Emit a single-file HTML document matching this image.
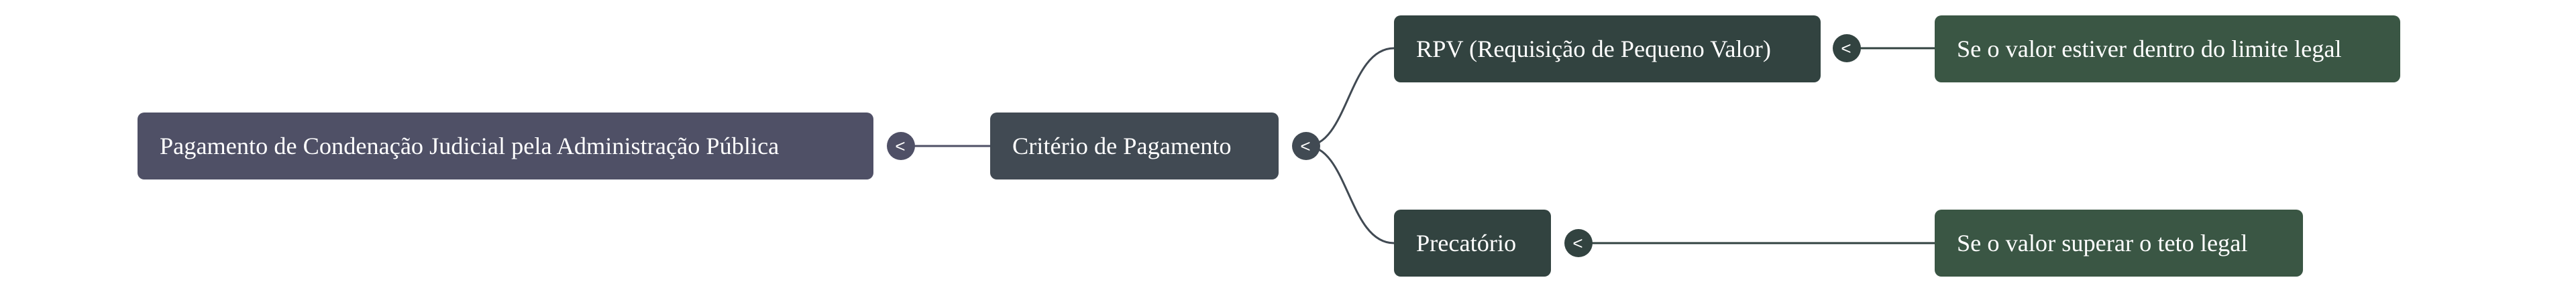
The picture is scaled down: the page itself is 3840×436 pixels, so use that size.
<!DOCTYPE html>
<html><head><meta charset="utf-8"><style>
html,body{margin:0;padding:0;background:#fff;width:3840px;height:436px;overflow:hidden;position:relative}
.n{position:absolute;box-sizing:border-box;border-radius:10px;color:#fff;font-family:"Liberation Serif",serif;font-size:36.3px;display:flex;align-items:center;padding-left:33px;white-space:nowrap}
</style></head><body>
<svg width="3840" height="436" style="position:absolute;left:0;top:0">
<g stroke="#414a53" stroke-width="3" fill="none">
<line x1="1343" y1="218" x2="1476" y2="218" stroke="#4f5066"/>
<path d="M1947 218 C2010 218 2010 72 2078 72"/>
<path d="M1947 218 C2010 218 2010 363 2078 363"/>
<line x1="2753" y1="72" x2="2884" y2="72" stroke="#324340"/>
<line x1="2353" y1="363" x2="2884" y2="363" stroke="#324340"/>
</g>
<g font-family="Liberation Sans,sans-serif" font-size="26" fill="#fff" text-anchor="middle">
<circle cx="1343" cy="218" r="21" fill="#4f5066"/><text x="1342" y="227">&lt;</text>
<circle cx="1947" cy="218" r="21" fill="#414a53"/><text x="1946" y="227">&lt;</text>
<circle cx="2753" cy="72" r="21" fill="#324340"/><text x="2752" y="81">&lt;</text>
<circle cx="2353" cy="363" r="21" fill="#324340"/><text x="2352" y="372">&lt;</text>
</g>
</svg>
<div class="n" style="left:205px;top:168px;width:1097px;height:100px;background:#4f5066">Pagamento de Condenação Judicial pela Administração Pública</div>
<div class="n" style="left:1476px;top:168px;width:430px;height:100px;background:#414a53">Critério de Pagamento</div>
<div class="n" style="left:2078px;top:23px;width:636px;height:100px;background:#324340">RPV (Requisição de Pequeno Valor)</div>
<div class="n" style="left:2884px;top:23px;width:694px;height:100px;background:#3a5644">Se o valor estiver dentro do limite legal</div>
<div class="n" style="left:2078px;top:313px;width:234px;height:100px;background:#324340">Precatório</div>
<div class="n" style="left:2884px;top:313px;width:549px;height:100px;background:#3a5644">Se o valor superar o teto legal</div>
</body></html>
